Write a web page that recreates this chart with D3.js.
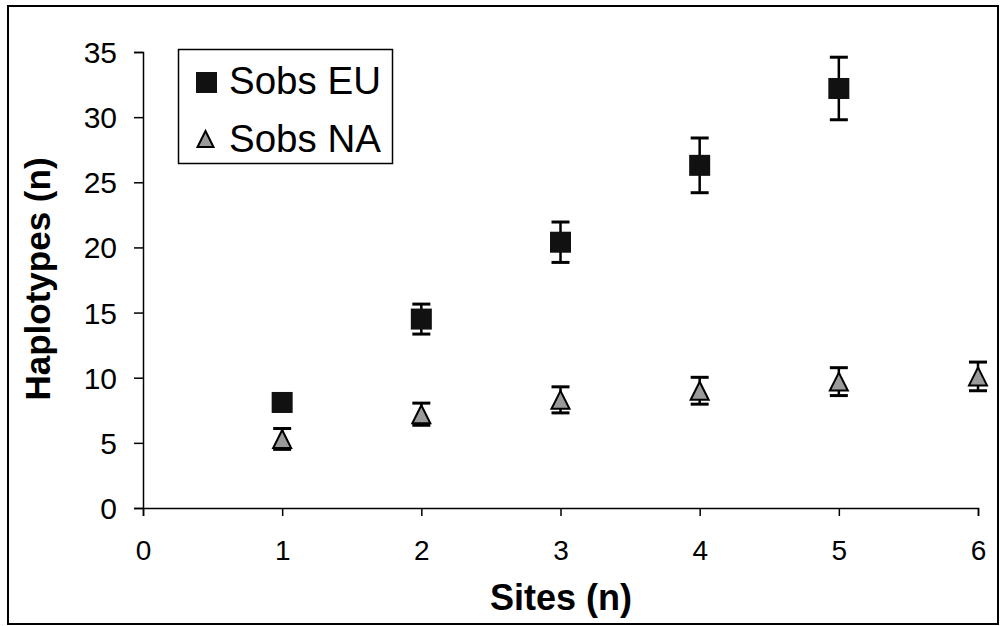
<!DOCTYPE html>
<html>
<head>
<meta charset="utf-8">
<script src="https://cdn.jsdelivr.net/npm/d3@7"></script>
<style>
  html, body { margin: 0; padding: 0; background: #fff; }
  svg { display: block; font-family: "Liberation Sans", Arial, sans-serif; }
</style>
</head>
<body>
<svg id="chart" width="1000" height="626"></svg>
<script>
// Observed haplotype counts per number of sites, with error ranges
const euSites = [1, 2, 3, 4, 5];
const euMean  = [8.1, 14.5, 20.4, 26.3, 32.2];
const euErr   = [0.6, 1.15, 1.55, 2.1, 2.4];

const naSites = [1, 2, 3, 4, 5, 6];
const naMean  = [5.3, 7.2, 8.3, 9.0, 9.7, 10.1];
const naErr   = [0.8, 0.85, 1.0, 1.03, 1.07, 1.1];

const xTicks = [0, 1, 2, 3, 4, 5, 6];
const yTicks = [0, 5, 10, 15, 20, 25, 30, 35];

const legendLabels = ["Sobs EU", "Sobs NA"];

const svg = d3.select("#chart");

// outer frame
svg.append("rect")
  .attr("x", 8).attr("y", 6).attr("width", 990).attr("height", 618)
  .attr("fill", "none").attr("stroke", "#000").attr("stroke-width", 2);

const x = d3.scaleLinear().domain([0, 6]).range([143, 978]);
const y = d3.scaleLinear().domain([0, 35]).range([508, 52]);

// axes
const xAxis = svg.append("g")
  .attr("transform", `translate(0,${y(0)})`)
  .call(d3.axisBottom(x).tickValues(xTicks).tickSize(8).tickPadding(24).tickFormat(d3.format("d")));
const yAxis = svg.append("g")
  .attr("transform", `translate(${x(0)},0)`)
  .call(d3.axisLeft(y).tickValues(yTicks).tickSize(9).tickPadding(17).tickFormat(d3.format("d")));

[xAxis, yAxis].forEach(g => {
  g.select(".domain").attr("stroke", "#000").attr("stroke-width", 1.5);
  g.selectAll(".tick line").attr("stroke", "#000").attr("stroke-width", 1.5);
  g.selectAll(".tick text").attr("fill", "#000").attr("font-family", "Liberation Sans, Arial, sans-serif");
});
xAxis.selectAll(".tick text").attr("font-size", 28);
yAxis.selectAll(".tick text").attr("font-size", 30).attr("dy", "0.35em");

// axis titles
svg.append("text")
  .attr("x", 561).attr("y", 610)
  .attr("text-anchor", "middle")
  .attr("font-weight", "bold").attr("font-size", 36)
  .text("Sites (n)");
svg.append("text")
  .attr("transform", "translate(50,279) rotate(-90)")
  .attr("text-anchor", "middle")
  .attr("font-weight", "bold").attr("font-size", 35)
  .text("Haplotypes (n)");

// error bars
function errorBars(sites, mean, err) {
  const g = svg.append("g").attr("stroke", "#000");
  sites.forEach((s, i) => {
    const cx = x(s), top = y(mean[i] + err[i]), bot = y(mean[i] - err[i]);
    g.append("line").attr("x1", cx).attr("x2", cx).attr("y1", top).attr("y2", bot).attr("stroke-width", 2.5);
    g.append("line").attr("x1", cx - 9).attr("x2", cx + 9).attr("y1", top).attr("y2", top).attr("stroke-width", 3);
    g.append("line").attr("x1", cx - 9).attr("x2", cx + 9).attr("y1", bot).attr("y2", bot).attr("stroke-width", 3);
  });
}
errorBars(euSites, euMean, euErr);
errorBars(naSites, naMean, naErr);

const tri = (cx, cy, w, h) => `M${cx},${cy - h / 2}L${cx + w / 2},${cy + h / 2}L${cx - w / 2},${cy + h / 2}Z`;

// EU squares
svg.append("g").selectAll("rect")
  .data(euSites.map((s, i) => [s, euMean[i]]))
  .join("rect")
  .attr("x", d => x(d[0]) - 10.5).attr("y", d => y(d[1]) - 10.5)
  .attr("width", 21).attr("height", 21)
  .attr("fill", "#111");

// NA triangles
svg.append("g").selectAll("path")
  .data(naSites.map((s, i) => [s, naMean[i]]))
  .join("path")
  .attr("d", d => tri(x(d[0]), y(d[1]), 18, 18))
  .attr("fill", "#9a9a9a").attr("stroke", "#000").attr("stroke-width", 2);

// legend
const lg = svg.append("g");
lg.append("rect")
  .attr("x", 178.5).attr("y", 49.5).attr("width", 214).attr("height", 114)
  .attr("fill", "#fff").attr("stroke", "#000").attr("stroke-width", 1.5);
lg.append("rect").attr("x", 196).attr("y", 72).attr("width", 21).attr("height", 21).attr("fill", "#111");
lg.append("path").attr("d", tri(205.5, 139, 16, 16))
  .attr("fill", "#9a9a9a").attr("stroke", "#000").attr("stroke-width", 2);
lg.selectAll("text.lab")
  .data(legendLabels)
  .join("text")
  .attr("class", "lab")
  .attr("x", 229).attr("y", (d, i) => 94 + i * 58)
  .attr("font-size", 38.5)
  .attr("fill", "#000")
  .text(d => d);
</script>
</body>
</html>
